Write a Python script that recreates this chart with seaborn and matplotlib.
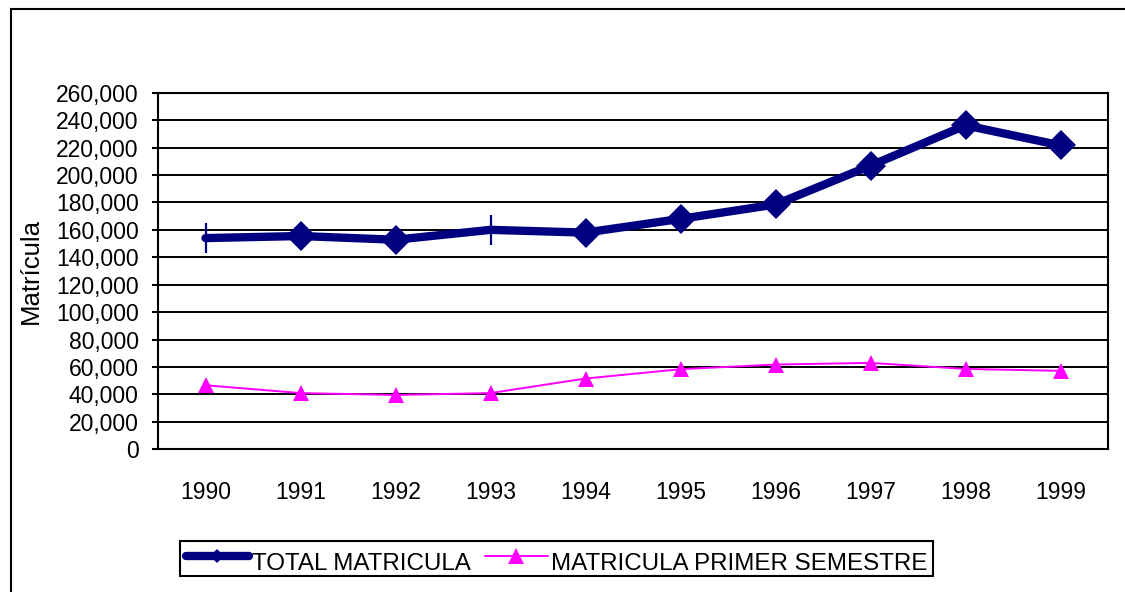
import matplotlib
matplotlib.use("Agg")
import matplotlib.pyplot as plt
import matplotlib.ticker as mticker
from matplotlib.lines import Line2D
import seaborn as sns
import pandas as pd

years = ["1990", "1991", "1992", "1993", "1994", "1995", "1996", "1997", "1998", "1999"]
total_matricula = [154000, 155500, 152800, 160000, 158000, 168000, 178500, 206800, 236200, 221600]
primer_semestre = [46700, 41000, 39600, 41000, 51600, 58400, 61800, 63000, 58600, 57200]
label_total = "TOTAL MATRICULA"
label_sem = "MATRICULA PRIMER SEMESTRE"
y_label = "Matrícula"
y_ticks = list(range(0, 260001, 20000))

sns.set_theme(style="white")
plt.rcParams["font.family"] = ["Liberation Sans", "DejaVu Sans"]
plt.rcParams["text.color"] = "black"

NAVY = "#000080"
MAGENTA = "#FF00FF"

df = pd.DataFrame({"year": years, "total": total_matricula, "sem": primer_semestre})

fig = plt.figure(figsize=(11.25, 5.92), dpi=100)
ax = fig.add_axes([158 / 1125, 1 - 449.3 / 592, 950 / 1125, (449.3 - 92.7) / 592])

# figure border: only left and top edges are visible in the reference
bx, by = 10.5 / 1125, 1 - 8.5 / 592
fig.add_artist(Line2D([bx, bx], [-0.05, by], transform=fig.transFigure,
                      color="black", linewidth=1.5, solid_capstyle="projecting"))
fig.add_artist(Line2D([bx, 1.05], [by, by], transform=fig.transFigure,
                      color="black", linewidth=1.5, solid_capstyle="projecting"))

sns.lineplot(data=df, x="year", y="sem", ax=ax, color=MAGENTA, linewidth=1.4,
             marker="^", markersize=12, markeredgewidth=0, zorder=3, sort=False)
diamond_idx = [i for i in range(len(years)) if i not in (0, 3)]
sns.lineplot(data=df, x="year", y="total", ax=ax, color=NAVY, linewidth=6,
             marker="D", markersize=15, markeredgewidth=0, markevery=diamond_idx,
             zorder=4, sort=False)
ax.plot(range(len(years)), total_matricula, linestyle="none", marker="|",
        markersize=21, markeredgewidth=1.6, color=NAVY, markevery=[0, 3], zorder=5)

ax.set_xlim(-0.5, len(years) - 0.5)
ax.set_ylim(0, 260000)
ax.set_yticks(y_ticks)
ax.yaxis.set_major_formatter(mticker.FuncFormatter(lambda v, p: f"{int(v):,}"))
ax.set_xticks(range(len(years)))
ax.set_xticklabels(years)
ax.set_xticks([i - 0.5 for i in range(len(years) + 1)], minor=True)

ax.grid(axis="y", color="black", linewidth=1.4)
ax.set_axisbelow(True)
for s in ax.spines.values():
    s.set_color("black")
    s.set_linewidth(1.5)
    s.set_visible(True)

ax.tick_params(axis="x", which="major", length=0, pad=23, labelsize=16.5, colors="black")
ax.tick_params(axis="x", which="minor", length=5.5, width=1.5, direction="out", color="black")
ax.tick_params(axis="y", which="major", length=4, width=1.5, direction="out",
               pad=10, labelsize=16.5, colors="black", left=True)

ax.set_xlabel("")
ax.set_ylabel(y_label, fontsize=18.5, color="black")
ax.yaxis.set_label_coords(-0.121, 0.5)

handles = [
    Line2D([], [], color=NAVY, linewidth=6, marker="D", markersize=7, markeredgewidth=0),
    Line2D([], [], color=MAGENTA, linewidth=1.4, marker="^", markersize=12, markeredgewidth=0),
]
leg = fig.legend(handles, [label_total, label_sem], loc="center",
                 bbox_to_anchor=(556.5 / 1125, 1 - 558.5 / 592), bbox_transform=fig.transFigure,
                 ncol=2, fontsize=17.4, frameon=True, fancybox=False, framealpha=1,
                 edgecolor="black", handlelength=2.6, handletextpad=0.12,
                 columnspacing=0.6, borderpad=0.25, borderaxespad=0, labelcolor="black")
leg.get_frame().set_linewidth(1.5)
for t in leg.get_texts():
    t.set_y(-5)

fig.savefig("out.png", dpi=100)
